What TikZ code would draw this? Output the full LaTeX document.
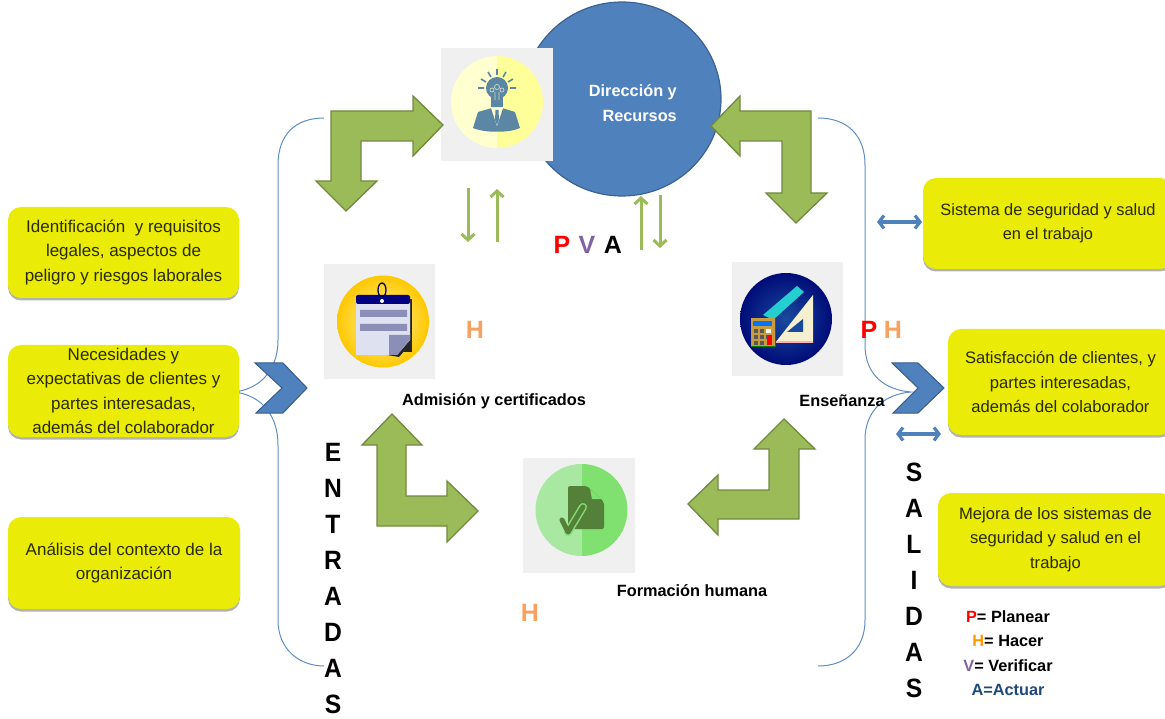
\documentclass[tikz,border=0pt]{standalone}
\usepackage{fontspec}
\setmainfont{Liberation Sans}
\newfontfamily\narrowf[FakeStretch=0.93]{Liberation Sans}
\usetikzlibrary{shapes.geometric,shadows,arrows.meta}
\definecolor{boxy}{HTML}{EBEB08}
\definecolor{boxtxt}{HTML}{2A2A00}
\definecolor{arrg}{HTML}{9BBB59}
\definecolor{arrgd}{HTML}{71893F}
\definecolor{blu}{HTML}{4F81BD}
\definecolor{blud}{HTML}{385D8A}
\definecolor{grayb}{HTML}{F0F0F0}
\definecolor{hor}{HTML}{F9A25F}
\definecolor{vio}{HTML}{8064A2}
\definecolor{navy1}{HTML}{1F497D}
\definecolor{fig}{HTML}{5B87A5}
\definecolor{paper}{HTML}{DDE1F0}
\definecolor{pline}{HTML}{8B8FB8}
\definecolor{yl1}{HTML}{FFFFD0}
\definecolor{yl2}{HTML}{FFFF99}
\definecolor{dkb1}{HTML}{1A4A9E}
\definecolor{dkb2}{HTML}{000C78}
\definecolor{teal1}{HTML}{25CED1}
\definecolor{cream}{HTML}{F5F0D0}
\definecolor{calc}{HTML}{C89B3C}
\definecolor{gold1}{HTML}{FFF2A8}
\definecolor{gold2}{HTML}{FFC800}
\definecolor{gr1}{HTML}{A8E8A0}
\definecolor{gr2}{HTML}{80E070}
\definecolor{gr3}{HTML}{55803A}
\tikzset{
  yellowbox/.style={draw=none,fill=boxy,rounded corners=13pt,inner sep=0pt,align=center,text=boxtxt,
    font=\fontsize{17}{24.5}\selectfont,
    drop shadow={shadow xshift=0pt,shadow yshift=-2.5pt,fill=black,opacity=.3}},
  bigarrow/.style={fill=arrg,draw=arrgd,line width=1.3pt,miter limit=10},
  chevron/.style={fill=blu,draw=blud,line width=1pt},
  brace/.style={draw=blu!90!white,line width=1pt},
  iconbg/.style={fill=grayb},
  thinarrow/.style={draw=arrg,line width=3pt,-{Straight Barb[length=6pt,width=13pt]}},
  dblarrow/.style={draw=blu,line width=3.2pt,{Straight Barb[length=5pt,width=13pt]}-{Straight Barb[length=5pt,width=13pt]}},
  lbl/.style={font=\fontsize{16.3}{18}\bfseries\selectfont,inner sep=0pt},
  pdca/.style={font=\fontsize{25}{27}\bfseries\selectfont,inner sep=0pt},
  stacked/.style={font=\narrowf\fontsize{26.5}{36}\bfseries\selectfont,align=center,inner sep=0pt},
}
\begin{document}
\begin{tikzpicture}[x=1pt,y=-1pt]
\useasboundingbox (0,0) rectangle (1165,719);
\clip (0,0) rectangle (1165,719);

% braces
\coordinate (blt) at (324,118); \coordinate (blm) at (233,392); \coordinate (blb) at (324,666);
\coordinate (brt) at (818,118); \coordinate (brm) at (911,392); \coordinate (brb) at (818,666);
\draw[brace] (blt) .. controls (295,118) and (278,135) .. (278,165) -- (278,340)
   .. controls (278,372) and (258,390) .. (blm)
   .. controls (258,394) and (278,412) .. (278,445) -- (278,620)
   .. controls (278,650) and (300,666) .. (blb);
\draw[brace] (brt) .. controls (847,118) and (865,135) .. (865,165) -- (865,345)
   .. controls (865,375) and (885,390) .. (brm)
   .. controls (885,394) and (865,410) .. (865,440) -- (865,620)
   .. controls (865,650) and (845,666) .. (brb);

% central circle
\node[ellipse,draw=blud!85!blu,line width=1.2pt,fill=blu,minimum width=198pt,minimum height=194pt,inner sep=0pt] (dir) at (622,99) {};
\node[font=\fontsize{16.3}{25}\bfseries\selectfont,text=white,align=right,inner sep=0pt,anchor=east] (dirt) at (677,103) {Dirección y\\Recursos};

% icon backgrounds
\fill[iconbg] (441,48) rectangle (553,161);
\fill[iconbg] (732,262) rectangle (843,376);
\fill[iconbg] (324,264) rectangle (435,379);
\fill[iconbg] (523,458) rectangle (635,573);

% icon 1: idea
\begin{scope}
 \clip (497,102) circle (46pt);
 \fill[yl1] (450,55) rectangle (497,149);
 \fill[yl2] (497,55) rectangle (544,149);
\end{scope}
\fill[fig] (473,128) -- (478,112) -- (492,108) -- (502,108) -- (515,112) -- (520,128)
   .. controls (510,133) and (484,133) .. (473,128) -- cycle;
\fill[yl1] (491,108) -- (503,108) -- (497,126) -- cycle;
\fill[fig] (495.5,110) -- (498.5,110) -- (499,120) -- (497,125) -- (495,120) -- cycle;
\fill[fig] (497,88) circle (11pt);
\fill[fig] (491,96) rectangle (503,107);
\draw[yl1!70!fig,line width=.7pt] (492,90) circle (2pt) (497,87) circle (2.5pt) (502,90) circle (2pt) (495,92) -- (495,100) (499,92) -- (499,100);
\draw[fig,line width=1.6pt]
  (478,88) -- (484,88) (510,88) -- (516,88)
  (481,79) -- (486,82) (513,79) -- (508,82)
  (488,72) -- (491,77) (506,72) -- (503,77)
  (497,69) -- (497,75);

% icon 2: teaching
\shade[inner color=dkb1,outer color=dkb2] (786,319) circle (46pt);
\fill[teal1] (763,315) -- (797,286) -- (804,292) -- (773,320) -- cycle;
\fill[cream] (813,295) -- (813,343) -- (775,343) -- cycle;
\fill[dkb1] (803,319) -- (803,332) -- (787,332) -- cycle;
\fill[red!30!white] (775,341) rectangle (813,343);
\fill[calc] (751,318) rectangle (775,347);
\draw[green!50!black,line width=1pt] (775,318) -- (775,347) -- (751,347);
\fill[blue!55!cyan] (753,321) rectangle (772,326);
\foreach \xx/\yy in {754/329,760/329,754/335,760/335,766/335,754/341,760/341}{\fill[black!65] (\xx,\yy) rectangle ++(4,4);}
\fill[white] (766,329) rectangle ++(5,4);
\fill[red] (767,335) rectangle (772,345);

% icon 3: notes
\shade[inner color=gold1,outer color=gold2] (383,321.5) circle (46pt);
\fill[black!85] (358,299) rectangle (412,352) ;
\fill[black!85] (358,350) -- (399,357) -- (412,342) -- cycle;
\fill[paper] (356,297) -- (410,297) -- (410,340) -- (397,355) -- (356,355) -- cycle;
\fill[blue!50!black,rounded corners=2pt] (356,304) -- (356,295) -- (410,295) -- (410,304) -- cycle;
\fill[pline] (360,310) rectangle (407,317) (360,324) rectangle (407,331);
\fill[pline] (389,335) -- (410,335) -- (410,340) -- (397,355) -- (389,355) -- cycle;
\draw[blue!40!black,line width=1.3pt] (382,290) ellipse (4pt and 7pt);
\fill[white] (382,301) circle (2pt);

% icon 4: document
\begin{scope}
 \clip (581.5,510) circle (46pt);
 \fill[gr1] (535,463) rectangle (581.5,557);
 \fill[gr2] (581.5,463) rectangle (628,557);
\end{scope}
\fill[gr3,rounded corners=2pt] (568,486) -- (587,486) -- (604,502) -- (604,529) -- (568,529) -- cycle;
\fill[gr2] (590,489) -- (601,499) -- (592,499) -- cycle;
\draw[gr2,line width=8pt,line cap=round] (568,532) -- (583,507);
\draw[gr3,line width=5pt,line cap=round,line join=round] (562,520) -- (568,532) -- (583,507);

% big L arrows
\draw[bigarrow] (443,125) -- (413,96) -- (413,111) -- (331,111) -- (331,181) -- (316,181) -- (346,211) -- (377,181) -- (361,181) -- (361,141) -- (413,141) -- (413,156) -- cycle;
\draw[bigarrow] (711,126) -- (740,96) -- (740,111) -- (811,111) -- (811,193) -- (827,193) -- (796,223) -- (766,193) -- (782,193) -- (782,141) -- (740,141) -- (740,156) -- cycle;
\draw[bigarrow] (392,414) -- (422,445) -- (406,445) -- (406,496) -- (447,496) -- (447,481) -- (478,511) -- (447,542) -- (447,526) -- (377,526) -- (377,445) -- (362,445) -- cycle;
\draw[bigarrow] (784,419) -- (815,449) -- (799,449) -- (799,519) -- (718,519) -- (718,535) -- (688,504) -- (718,475) -- (718,490) -- (769,490) -- (769,449) -- (754,449) -- cycle;

% chevrons
\draw[chevron] (255,363) -- (283,363) -- (307,388) -- (283,413) -- (256,413) -- (282,388) -- cycle;
\draw[chevron] (892,363) -- (918,363) -- (944,388) -- (918,413) -- (893,413) -- (918,388) -- cycle;

% thin arrows
\coordinate (a1s) at (468,188); \coordinate (a1e) at (468,242);
\coordinate (a2s) at (497,242); \coordinate (a2e) at (497,189);
\coordinate (a3s) at (641,250); \coordinate (a3e) at (641,196);
\coordinate (a4s) at (660,195); \coordinate (a4e) at (660,248);
\draw[thinarrow] (a1s) -- (a1e);
\draw[thinarrow] (a2s) -- (a2e);
\draw[thinarrow] (a3s) -- (a3e);
\draw[thinarrow] (a4s) -- (a4e);

% double arrows
\coordinate (d1s) at (877,222); \coordinate (d1e) at (922,222);
\coordinate (d2s) at (896,434); \coordinate (d2e) at (941,434);
\draw[dblarrow] (d1s) -- (d1e);
\draw[dblarrow] (d2s) -- (d2e);

% yellow boxes
\node[yellowbox,minimum width=231pt,minimum height=91pt] (l1) at (123.5,252.5) {Identificación\ \ y requisitos\\legales, aspectos de\\peligro y riesgos laborales};
\node[yellowbox,minimum width=231pt,minimum height=92pt] (l2) at (123.5,391) {Necesidades y\\expectativas de clientes y\\partes interesadas,\\además del colaborador};
\node[yellowbox,minimum width=232pt,minimum height=92pt] (l3) at (124,563) {Análisis del contexto de la\\organización};
\node[yellowbox,minimum width=250pt,minimum height=91pt,font=\fontsize{16.4}{24.5}\selectfont] (r1) at (1048,223.5) {Sistema de seguridad y salud\\en el trabajo};
\node[yellowbox,minimum width=225pt,minimum height=106pt,font=\fontsize{16.6}{24.5}\selectfont] (r2) at (1060.5,382) {Satisfacción de clientes, y\\partes interesadas,\\además del colaborador};
\node[yellowbox,minimum width=235pt,minimum height=93pt,font=\fontsize{16.6}{24.5}\selectfont] (r3) at (1055.5,539.5) {Mejora de los sistemas de\\seguridad y salud en el\\trabajo};

% labels
\node[lbl] (adm) at (494,401) {Admisión y certificados};
\node[lbl] (ens) at (842,401) {Enseñanza};
\node[lbl] (for) at (692,591) {Formación humana};
\node[pdca,text=red] (p1) at (562,245) {P};
\node[pdca,text=vio] (v1) at (587,245) {V};
\node[pdca,text=black] (a1) at (613,245) {A};
\node[pdca,text=hor] (h1) at (475,330) {H};
\node[pdca,text=red] (p2) at (869,330) {P};
\node[pdca,text=hor] (h2) at (893,330) {H};
\node[pdca,text=hor] (h3) at (530,613) {H};
\node[stacked] (ent) at (333,579) {E\\N\\T\\R\\A\\D\\A\\S};
\node[stacked] (sal) at (914,580.5) {S\\A\\L\\I\\D\\A\\S};
\node[font=\fontsize{16.3}{24.5}\bfseries\selectfont,align=center,inner sep=0pt] (leg) at (1008,653) {\textcolor{red}{P}= Planear\\\textcolor{orange!80!yellow}{H}= Hacer\\\textcolor{vio}{V}= Verificar\\\textcolor{navy1}{A=Actuar}};
\end{tikzpicture}
\end{document}
